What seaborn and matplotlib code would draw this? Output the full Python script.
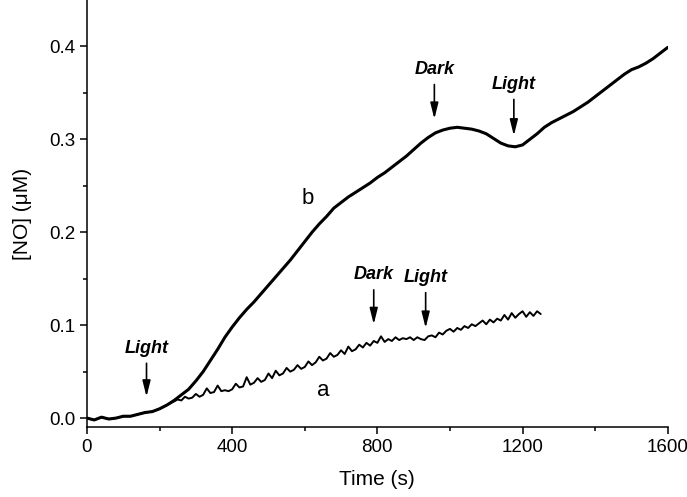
import numpy as np
import pandas as pd
import matplotlib
matplotlib.use('Agg')
import matplotlib.pyplot as plt
import seaborn as sns

# Trace b (light on at ~165 s, dark at ~960 s, light again at ~1180 s)
b_time = [0, 20, 40, 60, 80, 100, 120, 140, 160, 180, 200, 220, 240, 260, 280,
          300, 320, 340, 360, 380, 400, 420, 440, 460, 480, 500, 520, 540, 560,
          580, 600, 620, 640, 660, 680, 700, 720, 740, 760, 780, 800, 820, 840,
          860, 880, 900, 920, 940, 960, 980, 1000, 1020, 1040, 1060, 1080, 1100,
          1120, 1140, 1160, 1180, 1200, 1220, 1240, 1260, 1280, 1300, 1320, 1340,
          1360, 1380, 1400, 1420, 1440, 1460, 1480, 1500, 1520, 1540, 1560, 1580,
          1600]
b_no = [0.000, -0.002, 0.001, -0.001, 0.000, 0.002, 0.002, 0.004, 0.006, 0.007,
        0.010, 0.014, 0.019, 0.025, 0.031, 0.040, 0.050, 0.062, 0.074, 0.087,
        0.098, 0.108, 0.117, 0.125, 0.134, 0.143, 0.152, 0.161, 0.170, 0.180,
        0.190, 0.200, 0.209, 0.217, 0.226, 0.232, 0.238, 0.243, 0.248, 0.253,
        0.259, 0.264, 0.270, 0.276, 0.282, 0.289, 0.296, 0.302, 0.307, 0.310,
        0.312, 0.313, 0.312, 0.311, 0.309, 0.306, 0.301, 0.296, 0.293, 0.292,
        0.294, 0.300, 0.306, 0.313, 0.318, 0.322, 0.326, 0.330, 0.335, 0.340,
        0.346, 0.352, 0.358, 0.364, 0.370, 0.375, 0.378, 0.382, 0.387, 0.393,
        0.399]

# Trace a (light at ~165 s, dark at ~790 s, light again at ~930 s)
a_time = [0, 20, 40, 60, 80, 100, 120, 140, 160, 180, 200, 220, 230,
          240, 250, 260, 270, 280, 290, 300, 310, 320, 330, 340, 350, 360, 370,
          380, 390, 400, 410, 420, 430, 440, 450, 460, 470, 480, 490, 500, 510,
          520, 530, 540, 550, 560, 570, 580, 590, 600, 610, 620, 630, 640, 650,
          660, 670, 680, 690, 700, 710, 720, 730, 740, 750, 760, 770, 780, 790,
          800, 810, 820, 830, 840, 850, 860, 870, 880, 890, 900, 910, 920, 930,
          940, 950, 960, 970, 980, 990, 1000, 1010, 1020, 1030, 1040, 1050, 1060,
          1070, 1080, 1090, 1100, 1110, 1120, 1130, 1140, 1150, 1160, 1170, 1180,
          1190, 1200, 1210, 1220, 1230, 1240, 1250]
a_no = [0.000, -0.002, 0.001, -0.001, 0.000, 0.002, 0.002, 0.004, 0.006, 0.007,
        0.010, 0.014, 0.016,
        0.018, 0.020, 0.019, 0.023, 0.021, 0.022, 0.026, 0.023, 0.025, 0.032,
        0.027, 0.028, 0.035, 0.029, 0.030, 0.029, 0.031, 0.037, 0.033, 0.034,
        0.044, 0.036, 0.038, 0.043, 0.039, 0.041, 0.048, 0.043, 0.051, 0.046,
        0.048, 0.054, 0.050, 0.052, 0.057, 0.053, 0.055, 0.061, 0.057, 0.060,
        0.066, 0.062, 0.064, 0.070, 0.066, 0.068, 0.073, 0.069, 0.077, 0.072,
        0.074, 0.079, 0.076, 0.081, 0.078, 0.083, 0.081, 0.088, 0.082, 0.085,
        0.083, 0.087, 0.084, 0.086, 0.085, 0.087, 0.084, 0.087, 0.085, 0.084,
        0.088, 0.089, 0.087, 0.092, 0.090, 0.094, 0.096, 0.093, 0.097, 0.095,
        0.099, 0.097, 0.101, 0.099, 0.102, 0.105, 0.101, 0.106, 0.103, 0.107,
        0.105, 0.111, 0.106, 0.113, 0.108, 0.112, 0.115, 0.109, 0.114, 0.110,
        0.115, 0.112]

# arrows: (label, time, arrow top, arrow tip)
events = [("Light", 164, 0.062, 0.020),
          ("Dark", 790, 0.141, 0.098),
          ("Light", 933, 0.138, 0.094),
          ("Dark", 957, 0.362, 0.319),
          ("Light", 1176, 0.346, 0.301)]

df_a = pd.DataFrame({'time': a_time, 'no': a_no})
df_b = pd.DataFrame({'time': b_time, 'no': b_no})

sns.set_style('ticks')
plt.rcParams['font.family'] = ['Liberation Sans', 'DejaVu Sans']
plt.rcParams['text.color'] = 'black'
plt.rcParams['axes.labelcolor'] = 'black'
plt.rcParams['xtick.color'] = 'black'
plt.rcParams['ytick.color'] = 'black'

fig = plt.figure(figsize=(6.87, 4.97), dpi=100)
ax = fig.add_axes([0.1266, 0.141, 0.8454, 0.859])

sns.lineplot(data=df_b, x='time', y='no', ax=ax, color='black', lw=2.2,
             estimator=None, sort=False)
sns.lineplot(data=df_a, x='time', y='no', ax=ax, color='black', lw=1.4,
             estimator=None, sort=False)

for label, t, top, tip in events:
    ax.annotate('', xy=(t, tip), xytext=(t, top),
                arrowprops=dict(arrowstyle='-|>,head_width=0.2,head_length=0.8',
                                color='black', lw=1.2, mutation_scale=12))
    ax.text(t, top + 0.004, label, ha='center', va='bottom', fontsize=13,
            fontweight='bold', fontstyle='italic', color='black')

ax.text(651, 0.030, 'a', fontsize=16, ha='center', va='center')
ax.text(609, 0.236, 'b', fontsize=16, ha='center', va='center')

ax.set_xlim(0, 1600)
ax.set_ylim(-0.0095, 0.45)
ax.set_xticks([0, 400, 800, 1200, 1600])
ax.set_xticks([200, 600, 1000, 1400], minor=True)
ax.set_yticks([0.0, 0.1, 0.2, 0.3, 0.4])
ax.set_yticks([0.05, 0.15, 0.25, 0.35], minor=True)
ax.set_yticklabels(['0.0', '0.1', '0.2', '0.3', '0.4'])
ax.tick_params(axis='both', which='major', length=5, width=1.1, labelsize=13.5,
               direction='out', color='black', labelcolor='black')
ax.tick_params(axis='both', which='minor', length=3, width=1.1, direction='out',
               color='black')
ax.set_xlabel('Time (s)', fontsize=15, labelpad=10)
ax.set_ylabel('[NO] (\u03bcM)', fontsize=15, labelpad=12)
for side in ['left', 'bottom']:
    ax.spines[side].set_linewidth(1.1)
    ax.spines[side].set_color('black')
sns.despine(ax=ax)

fig.savefig('out.png', dpi=100)
